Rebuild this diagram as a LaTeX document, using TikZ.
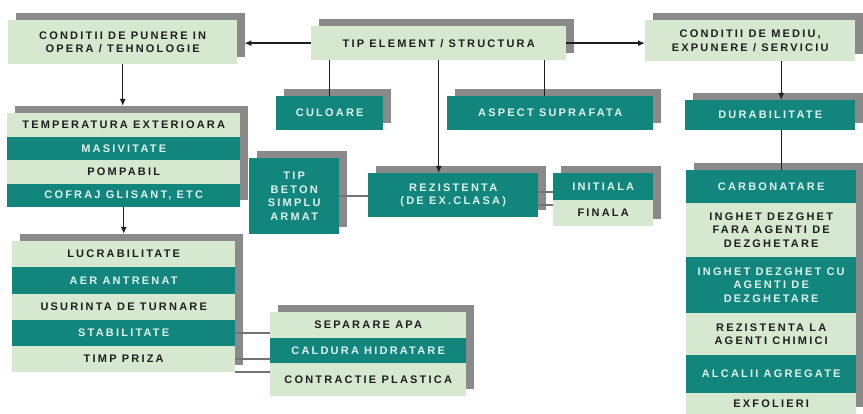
\documentclass[tikz,border=0pt]{standalone}
\usepackage{fontspec}
\newfontfamily\boxfont{Liberation Sans}[LetterSpace=20]
\usetikzlibrary{arrows.meta, calc, fit, backgrounds}
\definecolor{mint}{RGB}{214,232,208}
\definecolor{tealbox}{RGB}{18,134,124}
\definecolor{shadegray}{RGB}{138,138,138}
\definecolor{inkdark}{RGB}{30,30,30}
\definecolor{inklight}{RGB}{222,242,236}

\begin{document}
\begin{tikzpicture}[x=1pt, y=-1pt,
    cell/.style={rectangle, anchor=north west, inner sep=0pt, align=center,
        font=\boxfont\bfseries\fontsize{11}{13.5}\selectfont},
    light/.style={cell, fill=mint, text=inkdark},
    dark/.style={cell, fill=tealbox, text=inklight},
    shadow_box/.style={fill=shadegray, inner sep=0pt, xshift=8pt, yshift=7pt},
    link/.style={draw=inkdark, line width=1.4pt},
    soft_link/.style={draw=black!55, line width=1.8pt},
    >={Latex[length=7pt, width=6pt]},
]
    \useasboundingbox (0,0) rectangle (863,414);

    % top row
    \node[light, minimum width=229pt, minimum height=44pt] (cond_pun) at (8,20) {CONDITII DE PUNERE IN\\OPERA / TEHNOLOGIE};
    \node[light, minimum width=255pt, minimum height=34pt] (tip_el) at (311,26) {TIP ELEMENT / STRUCTURA};
    \node[light, minimum width=210pt, minimum height=41pt] (cond_med) at (645,20) {CONDITII DE MEDIU,\\EXPUNERE / SERVICIU};

    \node[dark, minimum width=107pt, minimum height=34pt] (culoare) at (276,96) {CULOARE};
    \node[dark, minimum width=206pt, minimum height=34pt] (aspect) at (447,96) {ASPECT SUPRAFATA};
    \node[dark, minimum width=170pt, minimum height=30pt] (durab) at (685,100) {DURABILITATE};

    % punere in opera
    \node[light, minimum width=233pt, minimum height=24pt] (temp) at (7,113) {TEMPERATURA EXTERIOARA};
    \node[dark, minimum width=233pt, minimum height=23pt] (masiv) at (7,137) {MASIVITATE};
    \node[light, minimum width=233pt, minimum height=24pt] (pomp) at (7,160) {POMPABIL};
    \node[dark, minimum width=233pt, minimum height=23pt] (cofraj) at (7,184) {COFRAJ GLISANT, ETC};

    \node[light, minimum width=223pt, minimum height=26pt] (lucr) at (12,241) {LUCRABILITATE};
    \node[dark, minimum width=223pt, minimum height=27pt] (aer) at (12,267) {AER ANTRENAT};
    \node[light, minimum width=223pt, minimum height=26pt] (usur) at (12,294) {USURINTA DE TURNARE};
    \node[dark, minimum width=223pt, minimum height=26pt] (stab) at (12,320) {STABILITATE};
    \node[light, minimum width=223pt, minimum height=26pt] (timp) at (12,346) {TIMP PRIZA};

    \node[light, minimum width=196pt, minimum height=26pt] (separare) at (270,312) {SEPARARE APA};
    \node[dark, minimum width=196pt, minimum height=25pt] (caldura) at (270,338) {CALDURA HIDRATARE};
    \node[light, minimum width=196pt, minimum height=33pt] (contractie) at (270,363) {CONTRACTIE PLASTICA};

    % element / structura
    \node[dark, minimum width=90pt, minimum height=76pt] (beton) at (249,158) {TIP\\BETON\\SIMPLU\\ARMAT};
    \node[dark, minimum width=170pt, minimum height=44pt] (rez) at (368,173) {REZISTENTA\\(DE EX.CLASA)};
    \node[dark, minimum width=100pt, minimum height=27pt] (initiala) at (553,173) {INITIALA};
    \node[light, minimum width=100pt, minimum height=26pt] (finala) at (553,200) {FINALA};

    % mediu / expunere
    \node[dark, minimum width=170pt, minimum height=33pt] (carb) at (686,170) {CARBONATARE};
    \node[light, minimum width=170pt, minimum height=54pt] (ing_fara) at (686,203) {INGHET DEZGHET\\FARA AGENTI DE\\DEZGHETARE};
    \node[dark, minimum width=170pt, minimum height=56pt] (ing_cu) at (686,257) {INGHET DEZGHET CU\\AGENTI DE\\DEZGHETARE};
    \node[light, minimum width=170pt, minimum height=42pt] (rez_chim) at (686,313) {REZISTENTA LA\\AGENTI CHIMICI};
    \node[dark, minimum width=170pt, minimum height=38pt] (alcalii) at (686,355) {ALCALII AGREGATE};
    \node[light, minimum width=170pt, minimum height=21pt] (exfol) at (686,393) {EXFOLIERI};

    \begin{scope}[on background layer]
        \foreach \nm in {cond_pun, tip_el, cond_med, culoare, aspect, durab, beton, rez}
            \node[shadow_box, fit=(\nm)] {};
        \node[shadow_box, fit=(temp)(cofraj)] {};
        \node[shadow_box, fit=(lucr)(timp)] {};
        \node[shadow_box, fit=(separare)(contractie)] {};
        \node[shadow_box, fit=(initiala)(finala)] {};
        \node[shadow_box, fit=(carb)(exfol)] {};

        \draw[->, link] (tip_el.west) -- ($(cond_pun.east |- tip_el.west)+(7,0)$);
        \draw[->, link] (tip_el.east) -- (tip_el.east -| cond_med.west);
        \draw[link] (culoare.north |- tip_el.south) -- (culoare.north);
        \draw[link] ($(aspect.north |- tip_el.south)+(-6,0)$) -- ($(aspect.north)+(-6,0)$);
        \draw[->, link] (tip_el.south) -- (tip_el.south |- rez.north);
        \draw[->, link] ($(durab.north |- cond_med.south)+(11,0)$) -- ($(durab.north)+(11,0)$);
        \draw[link] ($(durab.south)+(11,0)$) -- ($(durab.south |- carb.north)+(11,0)$);

        \draw[->, link] (cond_pun.south) -- ($(cond_pun.south |- temp.north)+(0,-7)$);
        \draw[->, link] (cofraj.south) -- ($(cofraj.south |- lucr.north)+(0,-7)$);

        \draw[soft_link] (beton.east) -- (beton.east -| rez.west);
        \draw[soft_link] ($(initiala.south west)+(0,-8)$) -- ($(initiala.south west -| rez.east)+(0,-8)$);
        \draw[soft_link] ($(finala.north west)+(0,5)$) -- ($(finala.north west -| rez.east)+(0,5)$);

        \draw[soft_link] (stab.east) -- (stab.east -| separare.west);
        \draw[soft_link] (timp.east) -- (timp.east -| caldura.west);
        \draw[soft_link] (timp.south east) -- (timp.south east -| contractie.west);
    \end{scope}
\end{tikzpicture}
\end{document}
